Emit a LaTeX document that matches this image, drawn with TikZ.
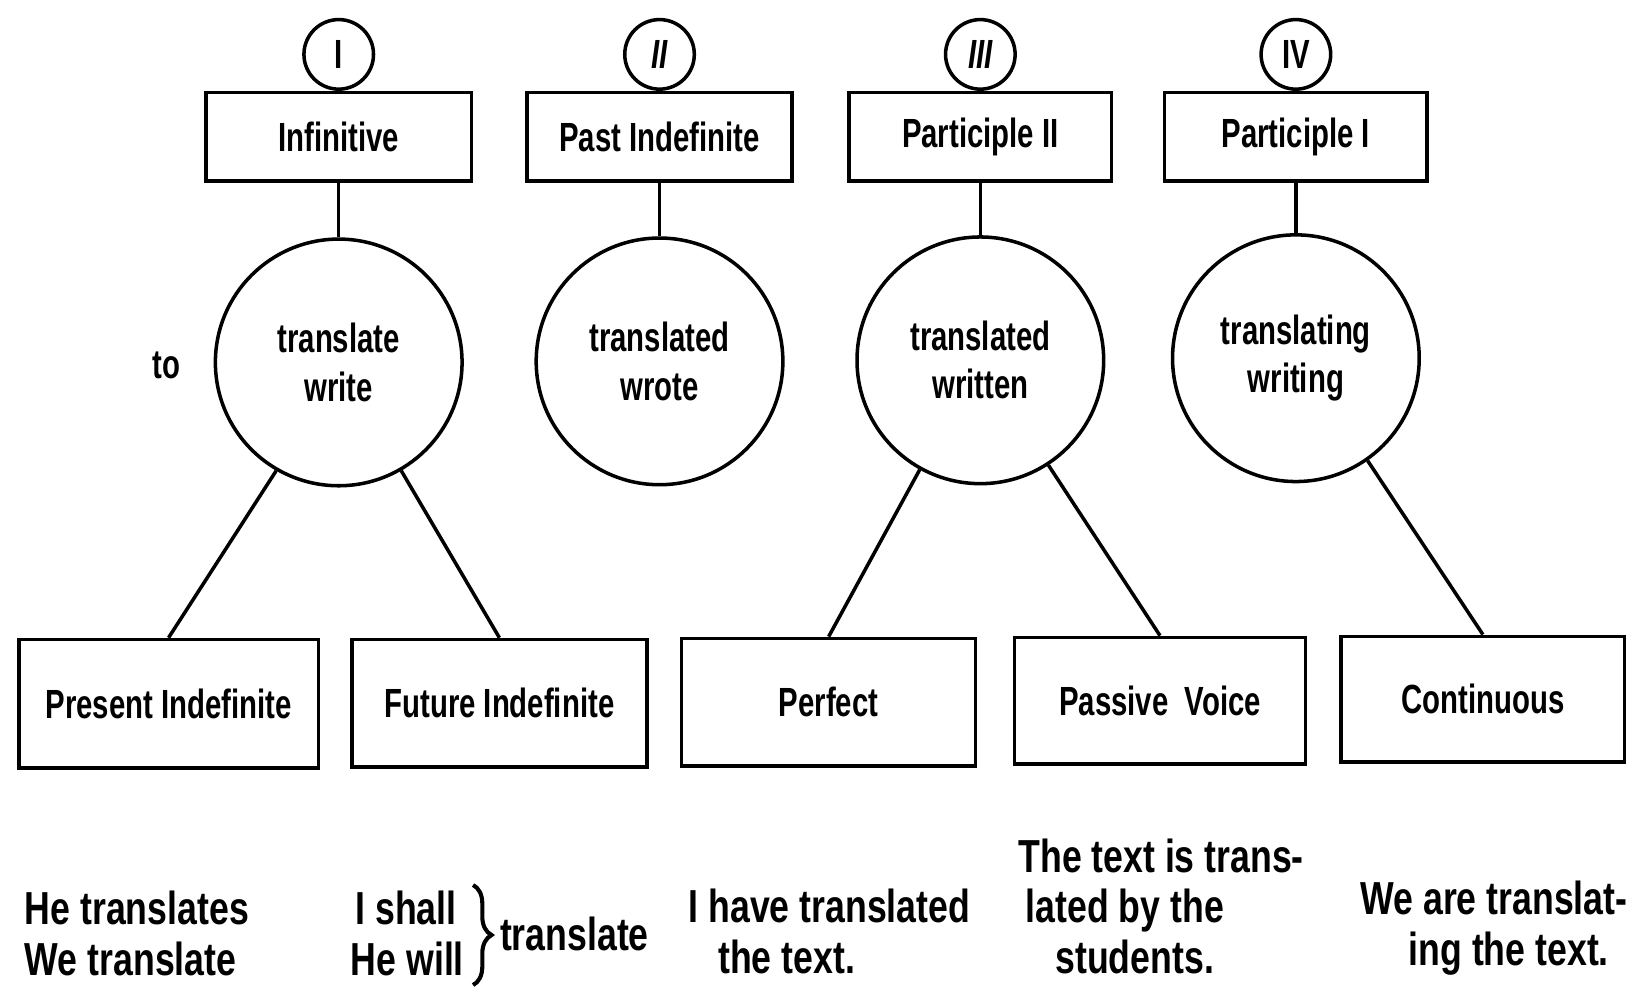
\documentclass[tikz,border=0pt]{standalone}
\usepackage{fontspec}
\usetikzlibrary{decorations.pathreplacing}
\newfontfamily\narrowf{Liberation Sans}[FakeStretch=0.72]
\newfontfamily\exf{Liberation Sans}[FakeStretch=0.77]
\begin{document}
\begin{tikzpicture}[x=0.01cm,y=-0.01cm,line width=0.95pt,
  lab/.style={font={\narrowf\bfseries\fontsize{11}{13}\selectfont}},
  ex/.style={font={\exf\bfseries\fontsize{12.5}{13.6}\selectfont},inner sep=0pt},
  topbox/.style={draw,rectangle,minimum height=0.84cm,inner sep=0pt,lab},
  botbox/.style={draw,rectangle,inner sep=0pt,lab},
  bigc/.style={draw,circle,minimum size=2.34cm,inner sep=0pt,align=center,lab},
  smallc/.style={draw,circle,minimum size=0.66cm,inner sep=0pt,lab}]
\useasboundingbox (0,0) rectangle (1568,943);
% top boxes
\node[topbox,minimum width=2.52cm] (t1) at (321.5,130) {Infinitive};
\node[topbox,minimum width=2.51cm] (t2) at (626,130) {Past Indefinite};
\node[topbox,minimum width=2.49cm] (t3) at (930.5,130) {Participle II};
\node[topbox,minimum width=2.49cm] (t4) at (1230,130) {Participle I};
% small circles
\node[smallc,anchor=south] (s1) at (t1.north) {I};
\node[smallc,anchor=south] (s2) at (t2.north) {\itshape II};
\node[smallc,anchor=south] (s3) at (t3.north) {\itshape III};
\node[smallc,anchor=south] (s4) at (t4.north) {IV};
% big circles
\node[bigc] (c1) at (321.5,344) {translate\\write};
\node[bigc] (c2) at (626,343) {translated\\wrote};
\node[bigc] (c3) at (930.5,342) {translated\\written};
\node[bigc] (c4) at (1230,340) {translating\\writing};
\node[lab] (to) at (158,347) {to};
% bottom boxes
\node[botbox,minimum width=2.84cm,minimum height=1.22cm] (b1) at (160,668) {Present Indefinite};
\node[botbox,minimum width=2.80cm,minimum height=1.21cm] (b2) at (474,667.5) {Future Indefinite};
\node[botbox,minimum width=2.79cm,minimum height=1.21cm] (b3) at (786.5,666.5) {Perfect};
\node[botbox,minimum width=2.76cm,minimum height=1.20cm] (b4) at (1101,665) {Passive\ \ Voice};
\node[botbox,minimum width=2.69cm,minimum height=1.19cm] (b5) at (1407.5,663.5) {Continuous};
% connectors
\draw (t1.south) -- (c1.north);
\draw (t2.south) -- (c2.north);
\draw (t3.south) -- (c3.north);
\draw (t4.south) -- (c4.north);
\draw (c1.240) -- (b1.north);
\draw (c1.300) -- (b2.north);
\draw (c3.241) -- (b3.north);
\draw (c3.303) -- (b4.north);
\draw (c4.305) -- (b5.north);
% examples
\node[ex,anchor=west,align=left] (e1) at (22,886) {He translates\\We translate};
\node[ex,anchor=east,align=left] (e2) at (442,886) {\hspace*{1.2pt}I shall\\He will};
\coordinate (brt) at (449,840);
\coordinate (brb) at (449,935);
\draw[line width=1.1pt,decoration={brace,amplitude=5pt},decorate] (brt) -- (brb);
\node[ex,anchor=west] (e3) at (473,886) {translate};
\node[ex,anchor=west,align=left] (e4) at (652,884) {I have translated\\\hspace*{8pt}the text.};
\node[ex,anchor=west,align=left] (e5) at (965,860) {The text is trans-\\\hspace*{2pt}lated by the\\\hspace*{10pt}students.};
\node[ex,align=center] (e6) at (1418,881) {We are translat-\\\hspace*{8pt}ing the text.};
\end{tikzpicture}
\end{document}
